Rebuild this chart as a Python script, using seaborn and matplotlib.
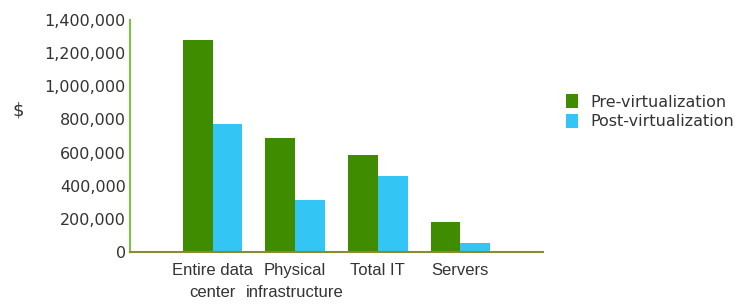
import matplotlib
matplotlib.use("Agg")
import matplotlib.pyplot as plt
import seaborn as sns
import pandas as pd
from matplotlib.ticker import FuncFormatter

categories = ["Entire data\ncenter", "Physical\ninfrastructure", "Total IT", "Servers"]
pre_virtualization = [1280000, 690000, 585000, 183000]
post_virtualization = [775000, 312000, 459000, 56000]
series_names = ["Pre-virtualization", "Post-virtualization"]
yticks = [0, 200000, 400000, 600000, 800000, 1000000, 1200000, 1400000]

df = pd.DataFrame({
    "category": categories * 2,
    "value": pre_virtualization + post_virtualization,
    "series": [series_names[0]] * len(categories) + [series_names[1]] * len(categories),
})

sns.set_style("white")
plt.rcParams["font.family"] = ["DejaVu Sans"]

fig = plt.figure(figsize=(7.41, 3.06), dpi=100)
ax = fig.add_axes([130 / 741, 1 - 252 / 306, (543 - 130) / 741, (252 - 20) / 306])

sns.barplot(data=df, x="category", y="value", hue="series", order=categories,
            hue_order=series_names, palette=["#3f8c00", "#33c6f4"], width=0.72,
            saturation=1, linewidth=0, ax=ax, legend=True)

ax.set_xlim(-1, 4)
ax.set_ylim(0, 1400000)
ax.set_yticks(yticks)
ax.yaxis.set_major_formatter(FuncFormatter(lambda v, p: f"{int(v):,}"))
ax.tick_params(axis="y", length=0, labelsize=11.5, colors="#333333", pad=3)
ax.tick_params(axis="x", length=0, labelsize=12, colors="#333333", pad=8)
for lab in ax.get_xticklabels():
    lab.set_linespacing(1.6)
    lab.set_fontfamily("Liberation Sans")
ax.set_xlabel("")
ax.set_ylabel("")
for s in ["top", "right"]:
    ax.spines[s].set_visible(False)
ax.spines["left"].set_color("#7cc143")
ax.spines["left"].set_linewidth(1.5)
ax.spines["bottom"].set_color("#8a8a30")
ax.spines["bottom"].set_linewidth(1.5)

fig.text(18 / 741, 1 - 110 / 306, "$", fontsize=13, color="#333333", ha="center", va="center")

leg = ax.legend(loc="upper left", bbox_to_anchor=(552 / 741, 1 - 80 / 306),
                bbox_transform=fig.transFigure, frameon=False, fontsize=11.5,
                handlelength=0.7, handleheight=0.9, handletextpad=0.8, labelspacing=0.3)
for t in leg.get_texts():
    t.set_color("#333333")

fig.savefig("out.png", dpi=100)
